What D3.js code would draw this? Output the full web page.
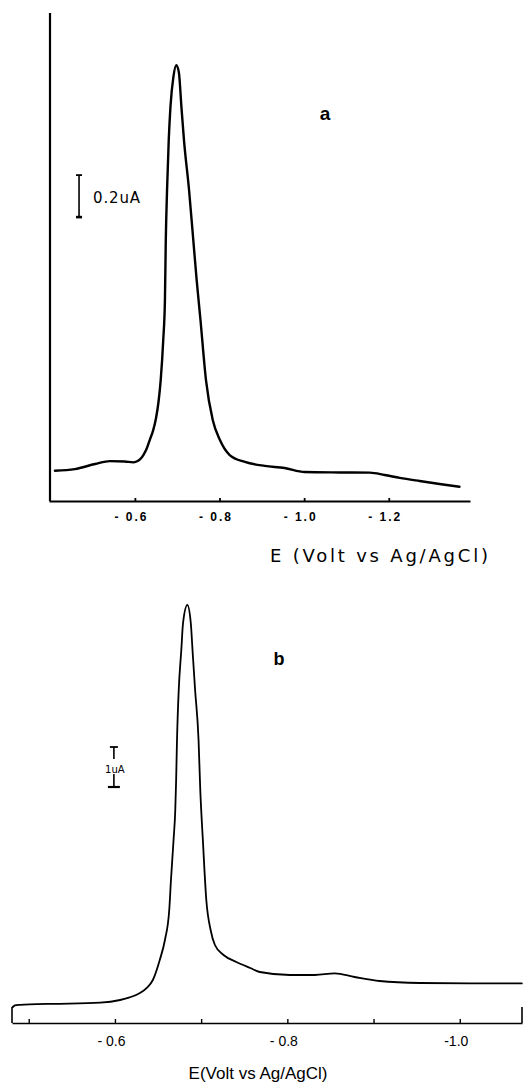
<!DOCTYPE html>
<html>
<head>
<meta charset="utf-8">
<script src="https://cdn.jsdelivr.net/npm/d3@7"></script>
<style>
  body { margin: 0; background: #fff; }
  svg { display: block; }
  .curve { fill: none; stroke: #000; stroke-linejoin: round; stroke-linecap: round; }
</style>
</head>
<body>
<svg id="chart" width="530" height="1089"></svg>
<script>
// ---------------- data ----------------
// panel a : potential (V vs Ag/AgCl) and current (uA)
var aVolt = [-0.411, -0.458, -0.506, -0.541, -0.576, -0.596, -0.604, -0.612, -0.620, -0.628,
             -0.635, -0.643, -0.650, -0.656, -0.661, -0.667, -0.671, -0.673, -0.676, -0.680,
             -0.684, -0.691, -0.698, -0.704, -0.710, -0.716, -0.728, -0.738, -0.746, -0.755,
             -0.768, -0.784, -0.801, -0.824, -0.860, -0.907, -0.954, -1.001, -1.084, -1.155,
             -1.190, -1.226, -1.273, -1.320, -1.367];
var aCurr = [0.144, 0.152, 0.176, 0.190, 0.188, 0.184, 0.188, 0.198, 0.219, 0.250,
             0.290, 0.335, 0.395, 0.475, 0.576, 0.767, 0.957, 1.240, 1.480, 1.719,
             1.876, 2.020, 2.076, 2.040, 1.876, 1.719, 1.481, 1.243, 1.052, 0.862,
             0.576, 0.386, 0.290, 0.219, 0.186, 0.167, 0.157, 0.138, 0.136, 0.135,
             0.124, 0.110, 0.095, 0.081, 0.068];
var aTicks = [-0.6, -0.8, -1.0, -1.2];
var aTickLabels = ["- 0.6", "- 0.8", "- 1.0", "- 1.2"];

// panel b
var bVolt = [-0.4815, -0.484, -0.490, -0.501, -0.536, -0.583, -0.606, -0.617, -0.629, -0.637,
             -0.644, -0.652, -0.658, -0.663, -0.665, -0.668, -0.670, -0.671, -0.672, -0.674,
             -0.677, -0.679, -0.684, -0.688, -0.690, -0.693, -0.697, -0.699, -0.702, -0.706,
             -0.711, -0.716, -0.726, -0.741, -0.757, -0.768, -0.803, -0.832, -0.855, -0.878,
             -0.907, -0.954, -1.012, -1.072];
var bCurr = [0.40, 0.44, 0.455, 0.468, 0.480, 0.508, 0.575, 0.640, 0.750, 0.880,
             1.075, 1.575, 2.075, 2.825, 3.575, 4.575, 5.325, 6.075, 7.075, 8.325,
             9.325, 10.0, 10.45, 10.0, 9.325, 8.325, 7.075, 5.825, 4.575, 3.075,
             2.325, 1.95, 1.70, 1.525, 1.375, 1.275, 1.20, 1.20, 1.24, 1.15,
             1.05, 1.00, 0.99, 0.99];
var bTicks = [-0.5, -0.6, -0.7, -0.8, -0.9, -1.0];
var bLabelTicks = [-0.6, -0.8, -1.0];
var bTickLabels = ["- 0.6", "- 0.8", "-1.0"];

var svg = d3.select('#chart');

//////////////////////////////// panel a ////////////////////////////////
var xA = d3.scaleLinear().domain([-0.397, -1.392]).range([49, 470]);
var yA = d3.scaleLinear().domain([0, 2.324]).range([501, 13]);

var gA = svg.append('g');

// y axis (plain line, no ticks)
gA.append('line')
    .attr('x1', 50).attr('x2', 50)
    .attr('y1', yA(2.324)).attr('y2', yA(0))
    .attr('stroke', '#000').attr('stroke-width', 2.2);

var axisA = d3.axisBottom(xA)
    .tickValues(aTicks)
    .tickSizeInner(-3)
    .tickSizeOuter(0)
    .tickPadding(11)
    .tickFormat(function(d, i) { return aTickLabels[i]; });

var axA = gA.append('g')
    .attr('transform', 'translate(0,' + yA(0) + ')')
    .call(axisA);
axA.select('.domain').attr('stroke-width', 2.2);
axA.selectAll('.tick line').attr('stroke-width', 1.8);
axA.selectAll('.tick text')
    .attr('fill', '#000')
    .attr('dx', -5)
    .style('font-family', '"Liberation Sans", Arial, sans-serif')
    .style('font-weight', 'bold')
    .style('font-size', '12px')
    .attr('textLength', 32)
    .attr('lengthAdjust', 'spacing');

var lineA = d3.line()
    .x(function(d, i) { return xA(aVolt[i]); })
    .y(function(d, i) { return yA(aCurr[i]); })
    .curve(d3.curveMonotoneX);

gA.append('path')
    .datum(aVolt)
    .attr('class', 'curve')
    .attr('stroke-width', 2.4)
    .attr('d', lineA);

// 0.2 uA scale bar
var barAx = xA(-0.468);
gA.append('line')
    .attr('x1', barAx).attr('x2', barAx)
    .attr('y1', yA(1.552)).attr('y2', yA(1.352))
    .attr('stroke', '#000').attr('stroke-width', 1.6);
[1.552, 1.352].forEach(function(v, i) {
    gA.append('line')
        .attr('x1', barAx - 3).attr('x2', barAx + 3)
        .attr('y1', yA(v)).attr('y2', yA(v))
        .attr('stroke', '#000').attr('stroke-width', i ? 2.6 : 1.8);
});
gA.append('text')
    .attr('x', barAx + 14).attr('y', 203)
    .style('font-family', '"DejaVu Sans", sans-serif')
    .style('font-size', '15px')
    .attr('textLength', 47).attr('lengthAdjust', 'spacing')
    .text('0.2uA');

gA.append('text')
    .attr('x', 325).attr('y', 120)
    .attr('text-anchor', 'middle')
    .style('font-family', '"Liberation Sans", Arial, sans-serif')
    .style('font-weight', 'bold')
    .style('font-size', '19px')
    .text('a');

gA.append('text')
    .attr('x', 270).attr('y', 562)
    .style('font-family', '"DejaVu Sans", sans-serif')
    .style('font-size', '18px')
    .attr('textLength', 218).attr('lengthAdjust', 'spacing')
    .text('E (Volt vs Ag/AgCl)');

//////////////////////////////// panel b ////////////////////////////////
var xB = d3.scaleLinear().domain([-0.4806, -1.0722]).range([12, 522]);
var yB = d3.scaleLinear().domain([0, 10.6]).range([1023, 599]);

var gB = svg.append('g');

var axisB = d3.axisBottom(xB)
    .tickValues(bTicks)
    .tickSizeInner(-4)
    .tickSizeOuter(0)
    .tickPadding(13)
    .tickFormat(function(d) {
        var k = bLabelTicks.indexOf(d);
        return k < 0 ? '' : bTickLabels[k];
    });

var axB = gB.append('g')
    .attr('transform', 'translate(0,' + yB(0) + ')')
    .call(axisB);
axB.select('.domain').attr('stroke-width', 1.6);
axB.selectAll('.tick line').attr('stroke-width', 1.4);
axB.selectAll('.tick text')
    .attr('fill', '#000')
    .attr('dx', -4)
    .style('font-family', '"Liberation Sans", Arial, sans-serif')
    .style('font-size', '14px');

// end frame lines
gB.append('line')
    .attr('x1', xB(-0.4806)).attr('x2', xB(-0.4806))
    .attr('y1', yB(0)).attr('y2', yB(0.40))
    .attr('stroke', '#000').attr('stroke-width', 1.6);
gB.append('line')
    .attr('x1', xB(-1.0722)).attr('x2', xB(-1.0722))
    .attr('y1', yB(0)).attr('y2', yB(0.40))
    .attr('stroke', '#000').attr('stroke-width', 1.6);

var lineB = d3.line()
    .x(function(d, i) { return xB(bVolt[i]); })
    .y(function(d, i) { return yB(bCurr[i]); })
    .curve(d3.curveMonotoneX);

gB.append('path')
    .datum(bVolt)
    .attr('class', 'curve')
    .attr('stroke-width', 1.8)
    .attr('d', lineB);

// 1 uA scale bar
var barBx = xB(-0.5988);
gB.append('line')
    .attr('x1', barBx).attr('x2', barBx)
    .attr('y1', yB(6.9)).attr('y2', yB(6.9) + 12)
    .attr('stroke', '#000').attr('stroke-width', 1.6);
gB.append('line')
    .attr('x1', barBx).attr('x2', barBx)
    .attr('y1', yB(5.9) - 13).attr('y2', yB(5.9))
    .attr('stroke', '#000').attr('stroke-width', 1.6);
gB.append('line')
    .attr('x1', barBx - 4).attr('x2', barBx + 4)
    .attr('y1', yB(6.9)).attr('y2', yB(6.9))
    .attr('stroke', '#000').attr('stroke-width', 1.8);
gB.append('line')
    .attr('x1', barBx - 6).attr('x2', barBx + 6)
    .attr('y1', yB(5.9)).attr('y2', yB(5.9))
    .attr('stroke', '#000').attr('stroke-width', 2.2);
gB.append('text')
    .attr('x', barBx + 1).attr('y', yB(5.9) - 14)
    .attr('text-anchor', 'middle')
    .style('font-family', '"DejaVu Sans", sans-serif')
    .style('font-size', '10px')
    .text('1uA');

gB.append('text')
    .attr('x', 279).attr('y', 665)
    .attr('text-anchor', 'middle')
    .style('font-family', '"Liberation Sans", Arial, sans-serif')
    .style('font-weight', 'bold')
    .style('font-size', '18px')
    .text('b');

gB.append('text')
    .attr('x', 258).attr('y', 1079)
    .attr('text-anchor', 'middle')
    .style('font-family', '"Liberation Sans", Arial, sans-serif')
    .style('font-size', '17px')
    .text('E(Volt vs Ag/AgCl)');
</script>
</body>
</html>
